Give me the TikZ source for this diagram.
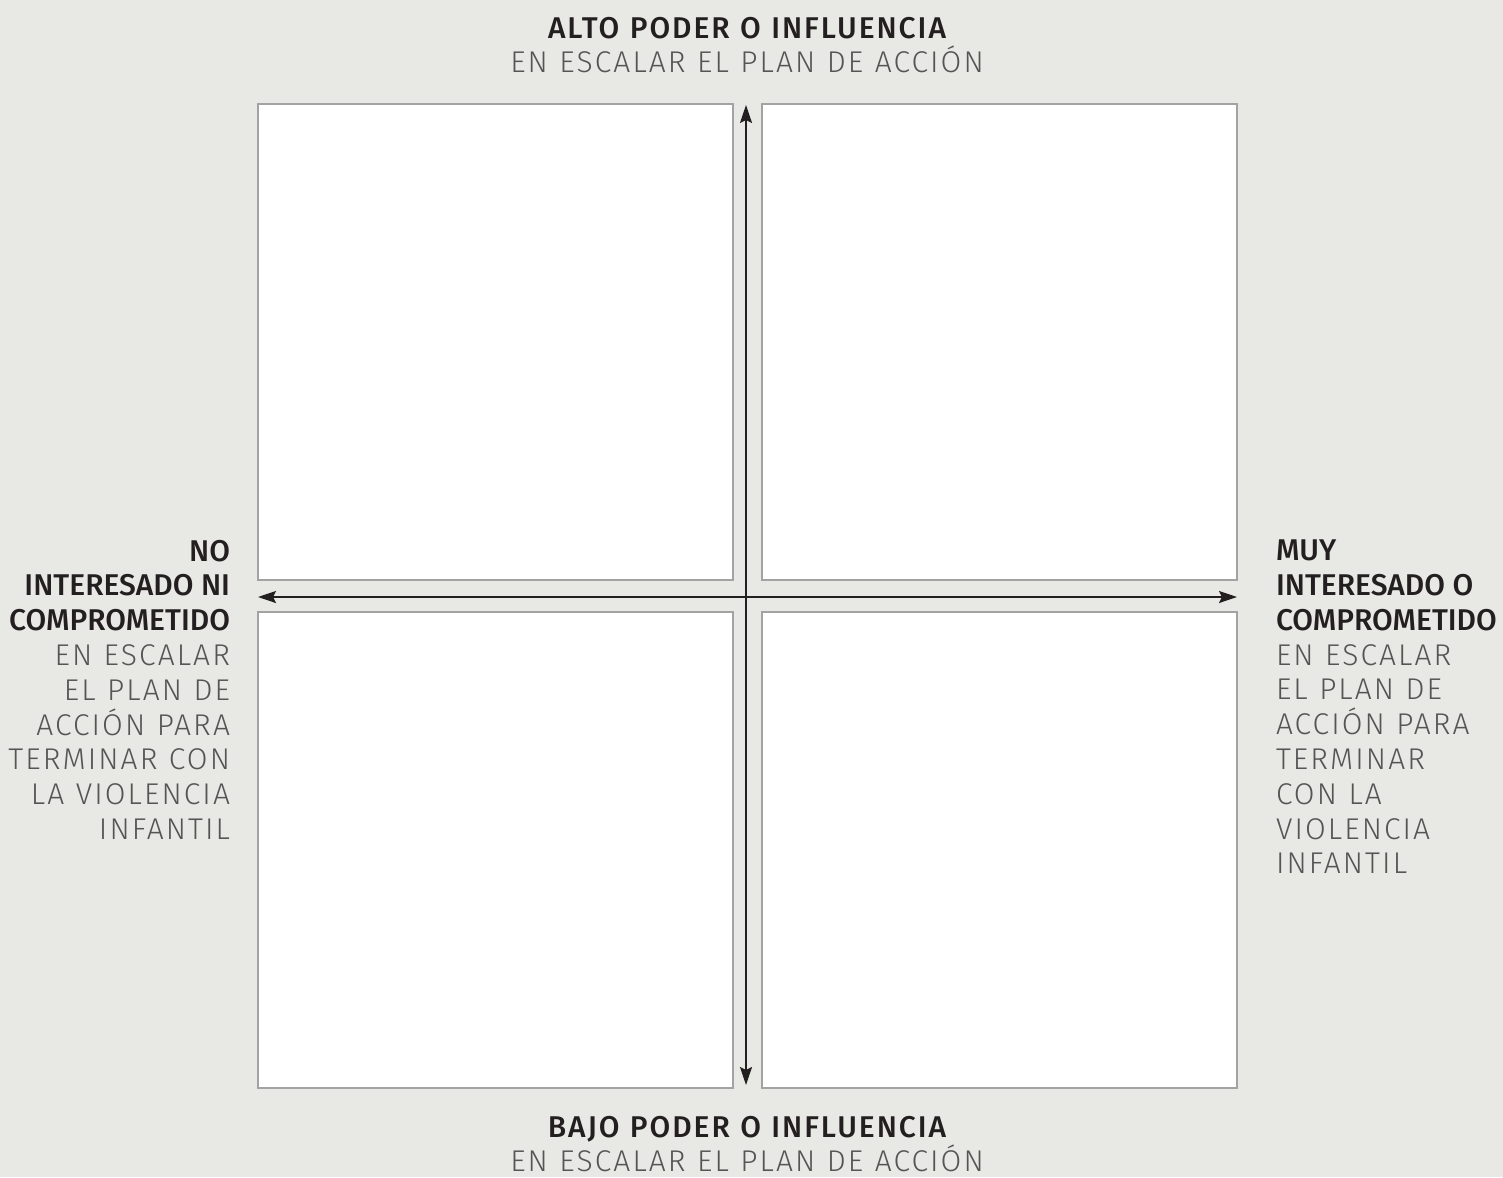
\documentclass[tikz,border=0pt]{standalone}
\usepackage{fontspec}
\setmainfont{Fira Sans}
\newfontfamily\headfont{Fira Sans Medium}
\newfontfamily\titlefont[LetterSpace=6.5,WordSpace=1.1]{Fira Sans Medium}
\newfontfamily\subfont[LetterSpace=7,WordSpace=1.1]{Fira Sans Light}
\usetikzlibrary{arrows.meta,positioning}
\definecolor{paper}{HTML}{E8E8E4}
\definecolor{frame}{HTML}{A3A3A3}
\definecolor{ink}{HTML}{231F20}
\definecolor{soft}{HTML}{555555}
\newcommand{\head}[1]{{\headfont\color{ink}#1}}
\newcommand{\tithead}[1]{{\titlefont\color{ink}#1}}
\newcommand{\sub}[1]{{\subfont\color{soft}#1}}

\begin{document}
\begin{tikzpicture}[
  x=0.5pt, y=-0.5pt,
  font=\fontsize{15}{17.4}\selectfont,
  quad/.style={draw=frame, line width=0.6pt, fill=white, anchor=north west,
               inner sep=0pt, outer sep=0pt,
               minimum width=237.5pt, minimum height=238pt},
  label/.style={inner sep=0pt, outer sep=0pt},
  axis/.style={{Stealth[length=9pt,width=6pt,inset=1.5pt]}-{Stealth[length=9pt,width=6pt,inset=1.5pt]},
               line width=1pt, draw=ink}
]
  \fill[paper] (0,0) rectangle (1503,1177);
  \useasboundingbox (0,0) rectangle (1503,1177);

  % the four quadrants
  \node[quad] (tl) at (258,104) {};
  \node[quad] (tr) at (762,104) {};
  \node[quad] (bl) at (258,612) {};
  \node[quad] (br) at (762,612) {};

  \coordinate (up) at (746,105);
  \coordinate (down) at (746,1085);
  \coordinate (west) at (258,597);
  \coordinate (east) at (1237,597);
  \draw[axis] (down) -- (up);
  \draw[axis] (west) -- (east);

  \node[label, anchor=north, align=center] (high) at (747,17)
    {\tithead{ALTO PODER O INFLUENCIA}\\\sub{EN ESCALAR EL PLAN DE ACCIÓN}};
  \node[label, anchor=north, align=center] (low) at (747,1116)
    {\tithead{BAJO PODER O INFLUENCIA}\\\sub{EN ESCALAR EL PLAN DE ACCIÓN}};
  \node[label, anchor=north east, align=right] (nope) at (230,540)
    {\head{NO}\\\head{INTERESADO NI}\\\head{COMPROMETIDO}\\
     \sub{EN ESCALAR}\\\sub{EL PLAN DE}\\\sub{ACCIÓN PARA}\\
     \sub{TERMINAR CON}\\\sub{LA VIOLENCIA}\\\sub{INFANTIL}};
  \node[label, anchor=north west, align=left] (keen) at (1276,540)
    {\head{MUY}\\\head{INTERESADO O}\\\head{COMPROMETIDO}\\
     \sub{EN ESCALAR}\\\sub{EL PLAN DE}\\\sub{ACCIÓN PARA}\\
     \sub{TERMINAR}\\\sub{CON LA}\\\sub{VIOLENCIA}\\\sub{INFANTIL}};
\end{tikzpicture}
\end{document}
